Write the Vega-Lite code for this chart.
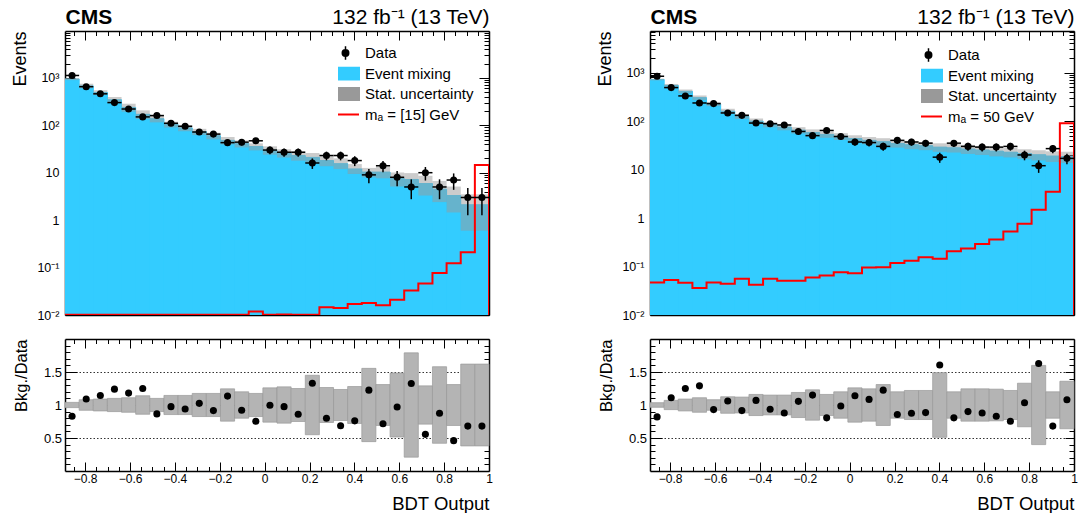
{
"$schema": "https://vega.github.io/schema/vega-lite/v6.json",
"padding": {"left": 10, "top": 6, "right": 4, "bottom": 0},
"config": {
  "font": "Liberation Sans",
  "view": {"stroke": null},
  "axis": {"domainColor": "#000000", "domainWidth": 1.5, "tickColor": "#000000", "tickWidth": 1, "labelColor": "#000000", "titleColor": "#000000", "labelFont": "Liberation Sans", "titleFont": "Liberation Sans", "titleFontWeight": "normal", "labelFontSize": 12, "grid": false, "zindex": 1, "labelFlush": false, "labelOverlap": false}
},
"datasets": {
"L": [
{"x0":-0.89,"x1":-0.827,"c":-0.8585,"n":1120,"elo":1086.5,"ehi":1153.5,"b":940,"blo":895,"bhi":985,"r":0.83,"rlo":0.96,"rhi":1.04},
{"x0":-0.827,"x1":-0.764,"c":-0.7955,"n":650,"elo":624.5,"ehi":675.5,"b":675,"blo":600,"bhi":750,"r":1.09,"rlo":0.92,"rhi":1.08},
{"x0":-0.764,"x1":-0.701,"c":-0.7325,"n":460,"elo":438.6,"ehi":481.4,"b":490,"blo":434,"bhi":545,"r":1.145,"rlo":0.91,"rhi":1.09},
{"x0":-0.701,"x1":-0.638,"c":-0.6695,"n":300,"elo":282.7,"ehi":317.3,"b":344,"blo":294,"bhi":394,"r":1.24,"rlo":0.90,"rhi":1.10},
{"x0":-0.638,"x1":-0.575,"c":-0.6065,"n":220,"elo":205.2,"ehi":234.8,"b":238,"blo":193,"bhi":284,"r":1.18,"rlo":0.89,"rhi":1.11},
{"x0":-0.575,"x1":-0.512,"c":-0.5435,"n":150,"elo":137.8,"ehi":162.2,"b":170,"blo":135,"bhi":206,"r":1.25,"rlo":0.86,"rhi":1.14},
{"x0":-0.512,"x1":-0.449,"c":-0.4805,"n":160,"elo":147.4,"ehi":172.6,"b":137,"blo":115,"bhi":159,"r":0.865,"rlo":0.90,"rhi":1.10},
{"x0":-0.449,"x1":-0.386,"c":-0.4175,"n":110,"elo":99.5,"ehi":120.5,"b":104,"blo":89.4,"bhi":118.6,"r":0.975,"rlo":0.855,"rhi":1.145},
{"x0":-0.386,"x1":-0.323,"c":-0.3545,"n":95,"elo":85.3,"ehi":104.7,"b":88,"blo":74.8,"bhi":101.2,"r":0.94,"rlo":0.855,"rhi":1.145},
{"x0":-0.323,"x1":-0.26,"c":-0.2915,"n":72,"elo":63.5,"ehi":80.5,"b":73,"blo":62,"bhi":84,"r":1.025,"rlo":0.825,"rhi":1.175},
{"x0":-0.26,"x1":-0.197,"c":-0.2285,"n":65,"elo":56.9,"ehi":73.1,"b":60,"blo":50.4,"bhi":69.6,"r":0.915,"rlo":0.825,"rhi":1.175},
{"x0":-0.197,"x1":-0.134,"c":-0.1655,"n":43,"elo":36.4,"ehi":49.6,"b":48,"blo":39.4,"bhi":56.6,"r":1.135,"rlo":0.755,"rhi":1.245},
{"x0":-0.134,"x1":-0.071,"c":-0.1025,"n":44,"elo":37.4,"ehi":50.6,"b":41,"blo":34,"bhi":48,"r":0.92,"rlo":0.80,"rhi":1.20},
{"x0":-0.071,"x1":-0.008,"c":-0.0395,"n":47,"elo":40.1,"ehi":53.9,"b":35.5,"blo":29.5,"bhi":41.5,"r":0.755,"rlo":0.825,"rhi":1.175},
{"x0":-0.008,"x1":0.055,"c":0.0235,"n":30,"elo":24.5,"ehi":35.5,"b":30,"blo":24,"bhi":36,"r":0.995,"rlo":0.74,"rhi":1.26},
{"x0":0.055,"x1":0.118,"c":0.0865,"n":27,"elo":21.8,"ehi":32.2,"b":26,"blo":20.8,"bhi":31.2,"r":0.975,"rlo":0.725,"rhi":1.275},
{"x0":0.118,"x1":0.181,"c":0.1495,"n":27,"elo":21.8,"ehi":32.2,"b":23,"blo":17.9,"bhi":28.1,"r":0.86,"rlo":0.75,"rhi":1.25},
{"x0":0.181,"x1":0.244,"c":0.2125,"n":16,"elo":12,"ehi":20,"b":21,"blo":16,"bhi":26,"r":1.33,"rlo":0.55,"rhi":1.45},
{"x0":0.244,"x1":0.307,"c":0.2755,"n":23,"elo":18.2,"ehi":27.8,"b":18,"blo":13.7,"bhi":22.3,"r":0.80,"rlo":0.735,"rhi":1.265},
{"x0":0.307,"x1":0.37,"c":0.3385,"n":23,"elo":18.2,"ehi":27.8,"b":15.5,"blo":11.9,"bhi":20,"r":0.685,"rlo":0.765,"rhi":1.235},
{"x0":0.37,"x1":0.433,"c":0.4015,"n":18,"elo":13.76,"ehi":22.24,"b":12,"blo":9.4,"bhi":15.2,"r":0.76,"rlo":0.72,"rhi":1.28},
{"x0":0.433,"x1":0.496,"c":0.4645,"n":9,"elo":6,"ehi":12,"b":10.3,"blo":8,"bhi":12.6,"r":1.225,"rlo":0.445,"rhi":1.555},
{"x0":0.496,"x1":0.559,"c":0.5275,"n":14,"elo":10.26,"ehi":17.74,"b":10.3,"blo":7.6,"bhi":13.4,"r":0.715,"rlo":0.69,"rhi":1.31},
{"x0":0.559,"x1":0.622,"c":0.5905,"n":8,"elo":5.17,"ehi":10.83,"b":7.6,"blo":5.1,"bhi":10.1,"r":0.97,"rlo":0.515,"rhi":1.485},
{"x0":0.622,"x1":0.685,"c":0.6535,"n":5,"elo":2.76,"ehi":7.24,"b":7.2,"blo":5.3,"bhi":9.8,"r":1.325,"rlo":0.21,"rhi":1.79},
{"x0":0.685,"x1":0.748,"c":0.7165,"n":10,"elo":6.84,"ehi":13.16,"b":5.9,"blo":3.3,"bhi":8.6,"r":0.555,"rlo":0.71,"rhi":1.29},
{"x0":0.748,"x1":0.811,"c":0.7795,"n":5,"elo":2.76,"ehi":7.24,"b":4.5,"blo":2.4,"bhi":6.7,"r":0.875,"rlo":0.42,"rhi":1.58},
{"x0":0.811,"x1":0.874,"c":0.8425,"n":7,"elo":4.35,"ehi":9.65,"b":3.3,"blo":1.45,"bhi":5.1,"r":0.46,"rlo":0.69,"rhi":1.31},
{"x0":0.874,"x1":0.937,"c":0.9055,"n":3,"elo":1.27,"ehi":4.73,"b":2.1,"blo":0.6,"bhi":3.5,"r":0.68,"rlo":0.38,"rhi":1.62},
{"x0":0.937,"x1":1.0,"c":0.9685,"n":3,"elo":1.27,"ehi":4.73,"b":2.1,"blo":0.6,"bhi":3.5,"r":0.68,"rlo":0.38,"rhi":1.62}
],
"R": [
{"x0":-0.89,"x1":-0.827,"c":-0.8585,"n":840,"elo":811,"ehi":869,"b":720,"blo":691,"bhi":749,"r":0.82,"rlo":0.965,"rhi":1.035},
{"x0":-0.827,"x1":-0.764,"c":-0.7955,"n":490,"elo":467.9,"ehi":512.1,"b":544,"blo":506,"bhi":582,"r":1.11,"rlo":0.93,"rhi":1.07},
{"x0":-0.764,"x1":-0.701,"c":-0.7325,"n":330,"elo":311.8,"ehi":348.2,"b":410,"blo":373,"bhi":447,"r":1.25,"rlo":0.91,"rhi":1.09},
{"x0":-0.701,"x1":-0.638,"c":-0.6695,"n":236,"elo":220.6,"ehi":251.4,"b":304,"blo":271,"bhi":337,"r":1.29,"rlo":0.89,"rhi":1.11},
{"x0":-0.638,"x1":-0.575,"c":-0.6065,"n":229,"elo":213.9,"ehi":244.1,"b":225,"blo":203,"bhi":248,"r":0.93,"rlo":0.92,"rhi":1.08},
{"x0":-0.575,"x1":-0.512,"c":-0.5435,"n":147,"elo":134.9,"ehi":159.1,"b":160,"blo":141,"bhi":179,"r":1.06,"rlo":0.875,"rhi":1.125},
{"x0":-0.512,"x1":-0.449,"c":-0.4805,"n":131,"elo":119.6,"ehi":142.4,"b":125,"blo":110,"bhi":140,"r":0.915,"rlo":0.88,"rhi":1.12},
{"x0":-0.449,"x1":-0.386,"c":-0.4175,"n":91,"elo":81.5,"ehi":100.5,"b":100,"blo":87,"bhi":113,"r":1.07,"rlo":0.84,"rhi":1.16},
{"x0":-0.386,"x1":-0.323,"c":-0.3545,"n":88,"elo":78.6,"ehi":97.4,"b":85,"blo":74,"bhi":96,"r":0.935,"rlo":0.85,"rhi":1.15},
{"x0":-0.323,"x1":-0.26,"c":-0.2915,"n":83,"elo":73.9,"ehi":92.1,"b":75,"blo":64.5,"bhi":85.5,"r":0.88,"rlo":0.85,"rhi":1.15},
{"x0":-0.26,"x1":-0.197,"c":-0.2285,"n":61,"elo":53.2,"ehi":68.8,"b":65,"blo":55.3,"bhi":74.8,"r":1.055,"rlo":0.81,"rhi":1.19},
{"x0":-0.197,"x1":-0.134,"c":-0.1655,"n":50,"elo":42.9,"ehi":57.1,"b":58,"blo":48.7,"bhi":67.3,"r":1.15,"rlo":0.77,"rhi":1.23},
{"x0":-0.134,"x1":-0.071,"c":-0.1025,"n":64,"elo":56,"ehi":72,"b":53,"blo":45.1,"bhi":61,"r":0.805,"rlo":0.84,"rhi":1.16},
{"x0":-0.071,"x1":-0.008,"c":-0.0395,"n":48,"elo":41.1,"ehi":54.9,"b":48.5,"blo":40.7,"bhi":56.3,"r":0.985,"rlo":0.80,"rhi":1.20},
{"x0":-0.008,"x1":0.055,"c":0.0235,"n":37,"elo":30.9,"ehi":43.1,"b":43.5,"blo":36.1,"bhi":50.9,"r":1.14,"rlo":0.74,"rhi":1.26},
{"x0":0.055,"x1":0.118,"c":0.0865,"n":36,"elo":30,"ehi":42,"b":40,"blo":33.2,"bhi":46.8,"r":1.085,"rlo":0.755,"rhi":1.245},
{"x0":0.118,"x1":0.181,"c":0.1495,"n":30,"elo":24.5,"ehi":35.5,"b":37.5,"blo":30.8,"bhi":44.3,"r":1.225,"rlo":0.69,"rhi":1.31},
{"x0":0.181,"x1":0.244,"c":0.2125,"n":40,"elo":33.7,"ehi":46.3,"b":34.5,"blo":28.3,"bhi":40.7,"r":0.855,"rlo":0.80,"rhi":1.20},
{"x0":0.244,"x1":0.307,"c":0.2755,"n":37,"elo":30.9,"ehi":43.1,"b":32.5,"blo":26.3,"bhi":38.7,"r":0.875,"rlo":0.78,"rhi":1.22},
{"x0":0.307,"x1":0.37,"c":0.3385,"n":35,"elo":29.1,"ehi":40.9,"b":31,"blo":25.1,"bhi":36.9,"r":0.885,"rlo":0.78,"rhi":1.22},
{"x0":0.37,"x1":0.433,"c":0.4015,"n":18,"elo":13.76,"ehi":22.24,"b":29,"blo":23.2,"bhi":34.8,"r":1.605,"rlo":0.51,"rhi":1.49},
{"x0":0.433,"x1":0.496,"c":0.4645,"n":35,"elo":29.1,"ehi":40.9,"b":28,"blo":22.4,"bhi":33.6,"r":0.805,"rlo":0.80,"rhi":1.20},
{"x0":0.496,"x1":0.559,"c":0.5275,"n":30,"elo":24.5,"ehi":35.5,"b":26.6,"blo":21,"bhi":32.2,"r":0.90,"rlo":0.755,"rhi":1.245},
{"x0":0.559,"x1":0.622,"c":0.5905,"n":29,"elo":23.6,"ehi":34.4,"b":25.3,"blo":20,"bhi":30.6,"r":0.88,"rlo":0.755,"rhi":1.245},
{"x0":0.622,"x1":0.685,"c":0.6535,"n":29,"elo":23.6,"ehi":34.4,"b":24,"blo":18.7,"bhi":29.3,"r":0.83,"rlo":0.76,"rhi":1.24},
{"x0":0.685,"x1":0.748,"c":0.7165,"n":30,"elo":24.5,"ehi":35.5,"b":22.8,"blo":17.8,"bhi":27.8,"r":0.755,"rlo":0.78,"rhi":1.22},
{"x0":0.748,"x1":0.811,"c":0.7795,"n":20,"elo":15.5,"ehi":24.5,"b":21.3,"blo":16.4,"bhi":26.2,"r":1.035,"rlo":0.67,"rhi":1.33},
{"x0":0.811,"x1":0.874,"c":0.8425,"n":12,"elo":8.54,"ehi":15.46,"b":20.2,"blo":15.4,"bhi":25,"r":1.63,"rlo":0.40,"rhi":1.60},
{"x0":0.874,"x1":0.937,"c":0.9055,"n":27,"elo":21.8,"ehi":32.2,"b":19,"blo":14.3,"bhi":23.8,"r":0.68,"rlo":0.80,"rhi":1.20},
{"x0":0.937,"x1":1.0,"c":0.9685,"n":17,"elo":12.9,"ehi":21.1,"b":18.5,"blo":13.7,"bhi":23.3,"r":1.08,"rlo":0.64,"rhi":1.36}
],
"sL": [
{"e":-0.89,"s":0.0101},{"e":-0.827,"s":0.0101},{"e":-0.764,"s":0.0101},{"e":-0.701,"s":0.0101},{"e":-0.638,"s":0.0101},{"e":-0.575,"s":0.0101},{"e":-0.512,"s":0.0101},{"e":-0.449,"s":0.0101},{"e":-0.386,"s":0.0101},{"e":-0.323,"s":0.0101},{"e":-0.26,"s":0.0101},{"e":-0.197,"s":0.0101},{"e":-0.134,"s":0.0101},{"e":-0.071,"s":0.0118},{"e":-0.008,"s":0.0101},{"e":0.055,"s":0.0102},{"e":0.118,"s":0.0101},{"e":0.181,"s":0.0101},{"e":0.244,"s":0.0145},{"e":0.307,"s":0.014},{"e":0.37,"s":0.017},{"e":0.433,"s":0.018},{"e":0.496,"s":0.016},{"e":0.559,"s":0.021},{"e":0.622,"s":0.033},{"e":0.685,"s":0.046},{"e":0.748,"s":0.077},{"e":0.811,"s":0.123},{"e":0.874,"s":0.21},{"e":0.937,"s":14.6},{"e":1.0,"s":0.01}
],
"sR": [
{"e":-0.89,"s":0.047},{"e":-0.827,"s":0.053},{"e":-0.764,"s":0.046},{"e":-0.701,"s":0.036},{"e":-0.638,"s":0.047},{"e":-0.575,"s":0.044},{"e":-0.512,"s":0.056},{"e":-0.449,"s":0.042},{"e":-0.386,"s":0.056},{"e":-0.323,"s":0.051},{"e":-0.26,"s":0.051},{"e":-0.197,"s":0.059},{"e":-0.134,"s":0.065},{"e":-0.071,"s":0.076},{"e":-0.008,"s":0.073},{"e":0.055,"s":0.095},{"e":0.118,"s":0.096},{"e":0.181,"s":0.118},{"e":0.244,"s":0.131},{"e":0.307,"s":0.156},{"e":0.37,"s":0.145},{"e":0.433,"s":0.206},{"e":0.496,"s":0.235},{"e":0.559,"s":0.29},{"e":0.622,"s":0.36},{"e":0.685,"s":0.53},{"e":0.748,"s":0.76},{"e":0.811,"s":1.48},{"e":0.874,"s":3.48},{"e":0.937,"s":90},{"e":1.0,"s":0.01}
]
},
"columns": 2,
"spacing": {"row": 24, "column": 161},
"bounds": "flush",
"resolve": {"scale": {"color": "independent"}, "legend": {"color": "independent"}},
"concat": [
{
  "width": 424, "height": 284,
  "layer": [
    {"data": {"name": "L"}, "mark": {"type": "rect", "clip": true, "fill": "#33ccff", "stroke": "#33ccff", "strokeWidth": 1},
     "encoding": {
       "x": {"field": "x0", "type": "quantitative", "scale": {"domain": [-0.89, 1], "nice": false, "zero": false}, "axis": null},
       "x2": {"field": "x1"},
       "y": {"field": "b", "type": "quantitative", "scale": {"type": "log", "domain": [0.01, 9700], "nice": false}, "axis": null},
       "y2": {"datum": 0.01}
     }},
    {"data": {"name": "L"}, "mark": {"type": "rect", "clip": true},
     "encoding": {
       "x": {"field": "x0", "type": "quantitative",
             "axis": {"orient": "bottom", "values": [-0.8,-0.6,-0.4,-0.2,0,0.2,0.4,0.6,0.8,1], "labels": false, "tickSize": -9, "domain": true, "title": null}},
       "x2": {"field": "x1"},
       "y": {"field": "b", "type": "quantitative",
             "axis": {"orient": "left", "values": [0.01,0.1,1,10,100,1000], "labelExpr": "datum.value >= 999 ? '10³' : datum.value >= 99 ? '10²' : datum.value >= 9 ? '10' : datum.value >= 0.9 ? '1' : datum.value >= 0.09 ? '10⁻¹' : '10⁻²'", "tickSize": -10, "labelPadding": 16, "labelFontSize": 12.5, "domain": true, "title": "Events", "titleFontSize": 18, "titleAngle": -90, "titleAlign": "right", "titleBaseline": "alphabetic", "titleX": -40, "titleY": 0}},
       "y2": {"datum": 0.01},
       "color": {"datum": "Event mixing",
         "scale": {"domain": ["Data", "Event mixing", "Stat. uncertainty", "mₐ = [15] GeV"], "range": ["#000000", "#33ccff", "#999999", "#ff0000"]},
         "legend": {"title": null, "orient": "top-right", "offset": 15, "padding": 0, "labelFont": "Liberation Sans", "labelFontSize": 15, "labelColor": "#000000", "labelOffset": 12, "labelLimit": 300, "symbolSize": 729, "clipHeight": 14, "rowPadding": 5.5,
           "encode": {"symbols": {"update": {
             "shape": {"signal": "datum.value === 'Data' ? 'M0,-0.5V0.5M0.24,0A0.24,0.24 0 1,1 -0.24,0A0.24,0.24 0 1,1 0.24,0Z' : (datum.value === 'Event mixing' || datum.value === 'Stat. uncertainty') ? 'M-1,-0.45H1V0.45H-1Z' : 'M-1,0H1'"},
             "strokeWidth": {"signal": "datum.value === 'Data' ? 1.5 : 2"},
             "opacity": {"value": 1}, "fillOpacity": {"value": 1}, "strokeOpacity": {"value": 1},
             "size": {"value": 729}
           }}}
         }}
     }},
    {"data": {"name": "L"}, "mark": {"type": "rect", "opacity": 0.5, "clip": true},
     "encoding": {
       "x": {"field": "x0", "type": "quantitative",
             "axis": {"orient": "top", "values": [-0.8,-0.6,-0.4,-0.2,0,0.2,0.4,0.6,0.8,1], "labels": false, "tickSize": -9, "domain": true, "title": "132 fb⁻¹ (13 TeV)", "titleFontSize": 21, "titleAlign": "right", "titleBaseline": "alphabetic", "titleX": 424, "titleY": -8}},
       "x2": {"field": "x1"},
       "y": {"field": "blo", "type": "quantitative",
             "axis": {"orient": "right", "values": [0.01,0.1,1,10,100,1000], "labels": false, "tickSize": -10, "domain": true, "title": null}},
       "y2": {"field": "bhi"},
       "color": {"datum": "Stat. uncertainty"}
     }},
    {"data": {"name": "sL"}, "mark": {"type": "line", "interpolate": "step-after", "strokeWidth": 2, "clip": true},
     "encoding": {
       "x": {"field": "e", "type": "quantitative", "axis": null},
       "y": {"field": "s", "type": "quantitative", "axis": null},
       "color": {"datum": "mₐ = [15] GeV"}
     }},
    {"data": {"name": "L"}, "mark": {"type": "rule", "strokeWidth": 1.5, "clip": true},
     "encoding": {
       "x": {"field": "c", "type": "quantitative",
             "axis": {"orient": "bottom", "values": [-0.85,-0.75,-0.7,-0.65,-0.55,-0.5,-0.45,-0.35,-0.3,-0.25,-0.15,-0.1,-0.05,0.05,0.1,0.15,0.25,0.3,0.35,0.45,0.5,0.55,0.65,0.7,0.75,0.85,0.9,0.95], "labels": false, "tickSize": -4.5, "domain": false, "title": null}},
       "y": {"field": "elo", "type": "quantitative",
             "axis": {"orient": "left", "values": [0.02,0.03,0.04,0.05,0.06,0.07,0.08,0.09,0.2,0.3,0.4,0.5,0.6,0.7,0.8,0.9,2,3,4,5,6,7,8,9,20,30,40,50,60,70,80,90,200,300,400,500,600,700,800,900,2000,3000,4000,5000,6000,7000,8000,9000], "labels": false, "tickSize": -5, "domain": false, "title": null}},
       "y2": {"field": "ehi"},
       "color": {"datum": "Data"}
     }},
    {"data": {"name": "L"}, "mark": {"type": "rule", "strokeWidth": 1.5, "clip": true},
     "encoding": {
       "x": {"field": "x0", "type": "quantitative",
             "axis": {"orient": "top", "values": [-0.85,-0.75,-0.7,-0.65,-0.55,-0.5,-0.45,-0.35,-0.3,-0.25,-0.15,-0.1,-0.05,0.05,0.1,0.15,0.25,0.3,0.35,0.45,0.5,0.55,0.65,0.7,0.75,0.85,0.9,0.95], "labels": false, "tickSize": -4.5, "domain": false, "title": "CMS", "titleFontSize": 21, "titleFontWeight": "bold", "titleAlign": "left", "titleBaseline": "alphabetic", "titleX": 0, "titleY": -8}},
       "x2": {"field": "x1"},
       "y": {"field": "n", "type": "quantitative",
             "axis": {"orient": "right", "values": [0.02,0.03,0.04,0.05,0.06,0.07,0.08,0.09,0.2,0.3,0.4,0.5,0.6,0.7,0.8,0.9,2,3,4,5,6,7,8,9,20,30,40,50,60,70,80,90,200,300,400,500,600,700,800,900,2000,3000,4000,5000,6000,7000,8000,9000], "labels": false, "tickSize": -5, "domain": false, "title": null}},
       "color": {"datum": "Data"}
     }},
    {"data": {"name": "L"}, "mark": {"type": "point", "filled": true, "size": 50, "opacity": 1, "clip": true},
     "encoding": {
       "x": {"field": "c", "type": "quantitative", "axis": null},
       "y": {"field": "n", "type": "quantitative", "axis": null},
       "color": {"datum": "Data"}
     }}
  ],
  "resolve": {"axis": {"x": "independent", "y": "independent"}}
},
{
  "width": 424, "height": 284,
  "layer": [
    {"data": {"name": "R"}, "mark": {"type": "rect", "clip": true, "fill": "#33ccff", "stroke": "#33ccff", "strokeWidth": 1},
     "encoding": {
       "x": {"field": "x0", "type": "quantitative", "scale": {"domain": [-0.89, 1], "nice": false, "zero": false}, "axis": null},
       "x2": {"field": "x1"},
       "y": {"field": "b", "type": "quantitative", "scale": {"type": "log", "domain": [0.01, 7200], "nice": false}, "axis": null},
       "y2": {"datum": 0.01}
     }},
    {"data": {"name": "R"}, "mark": {"type": "rect", "clip": true},
     "encoding": {
       "x": {"field": "x0", "type": "quantitative",
             "axis": {"orient": "bottom", "values": [-0.8,-0.6,-0.4,-0.2,0,0.2,0.4,0.6,0.8,1], "labels": false, "tickSize": -9, "domain": true, "title": null}},
       "x2": {"field": "x1"},
       "y": {"field": "b", "type": "quantitative",
             "axis": {"orient": "left", "values": [0.01,0.1,1,10,100,1000], "labelExpr": "datum.value >= 999 ? '10³' : datum.value >= 99 ? '10²' : datum.value >= 9 ? '10' : datum.value >= 0.9 ? '1' : datum.value >= 0.09 ? '10⁻¹' : '10⁻²'", "tickSize": -10, "labelPadding": 16, "labelFontSize": 12.5, "domain": true, "title": "Events", "titleFontSize": 18, "titleAngle": -90, "titleAlign": "right", "titleBaseline": "alphabetic", "titleX": -40, "titleY": 0}},
       "y2": {"datum": 0.01},
       "color": {"datum": "Event mixing",
         "scale": {"domain": ["Data", "Event mixing", "Stat. uncertainty", "mₐ = 50 GeV"], "range": ["#000000", "#33ccff", "#999999", "#ff0000"]},
         "legend": {"title": null, "orient": "top-right", "offset": 17, "padding": 0, "labelFont": "Liberation Sans", "labelFontSize": 15, "labelColor": "#000000", "labelOffset": 12, "labelLimit": 300, "symbolSize": 729, "clipHeight": 14, "rowPadding": 5.5,
           "encode": {"symbols": {"update": {
             "shape": {"signal": "datum.value === 'Data' ? 'M0,-0.5V0.5M0.24,0A0.24,0.24 0 1,1 -0.24,0A0.24,0.24 0 1,1 0.24,0Z' : (datum.value === 'Event mixing' || datum.value === 'Stat. uncertainty') ? 'M-1,-0.45H1V0.45H-1Z' : 'M-1,0H1'"},
             "strokeWidth": {"signal": "datum.value === 'Data' ? 1.5 : 2"},
             "opacity": {"value": 1}, "fillOpacity": {"value": 1}, "strokeOpacity": {"value": 1},
             "size": {"value": 729}
           }}}
         }}
     }},
    {"data": {"name": "R"}, "mark": {"type": "rect", "opacity": 0.5, "clip": true},
     "encoding": {
       "x": {"field": "x0", "type": "quantitative",
             "axis": {"orient": "top", "values": [-0.8,-0.6,-0.4,-0.2,0,0.2,0.4,0.6,0.8,1], "labels": false, "tickSize": -9, "domain": true, "title": "132 fb⁻¹ (13 TeV)", "titleFontSize": 21, "titleAlign": "right", "titleBaseline": "alphabetic", "titleX": 424, "titleY": -8}},
       "x2": {"field": "x1"},
       "y": {"field": "blo", "type": "quantitative",
             "axis": {"orient": "right", "values": [0.01,0.1,1,10,100,1000], "labels": false, "tickSize": -10, "domain": true, "title": null}},
       "y2": {"field": "bhi"},
       "color": {"datum": "Stat. uncertainty"}
     }},
    {"data": {"name": "sR"}, "mark": {"type": "line", "interpolate": "step-after", "strokeWidth": 2, "clip": true},
     "encoding": {
       "x": {"field": "e", "type": "quantitative", "axis": null},
       "y": {"field": "s", "type": "quantitative", "axis": null},
       "color": {"datum": "mₐ = 50 GeV"}
     }},
    {"data": {"name": "R"}, "mark": {"type": "rule", "strokeWidth": 1.5, "clip": true},
     "encoding": {
       "x": {"field": "c", "type": "quantitative",
             "axis": {"orient": "bottom", "values": [-0.85,-0.75,-0.7,-0.65,-0.55,-0.5,-0.45,-0.35,-0.3,-0.25,-0.15,-0.1,-0.05,0.05,0.1,0.15,0.25,0.3,0.35,0.45,0.5,0.55,0.65,0.7,0.75,0.85,0.9,0.95], "labels": false, "tickSize": -4.5, "domain": false, "title": null}},
       "y": {"field": "elo", "type": "quantitative",
             "axis": {"orient": "left", "values": [0.02,0.03,0.04,0.05,0.06,0.07,0.08,0.09,0.2,0.3,0.4,0.5,0.6,0.7,0.8,0.9,2,3,4,5,6,7,8,9,20,30,40,50,60,70,80,90,200,300,400,500,600,700,800,900,2000,3000,4000,5000,6000,7000], "labels": false, "tickSize": -5, "domain": false, "title": null}},
       "y2": {"field": "ehi"},
       "color": {"datum": "Data"}
     }},
    {"data": {"name": "R"}, "mark": {"type": "rule", "strokeWidth": 1.5, "clip": true},
     "encoding": {
       "x": {"field": "x0", "type": "quantitative",
             "axis": {"orient": "top", "values": [-0.85,-0.75,-0.7,-0.65,-0.55,-0.5,-0.45,-0.35,-0.3,-0.25,-0.15,-0.1,-0.05,0.05,0.1,0.15,0.25,0.3,0.35,0.45,0.5,0.55,0.65,0.7,0.75,0.85,0.9,0.95], "labels": false, "tickSize": -4.5, "domain": false, "title": "CMS", "titleFontSize": 21, "titleFontWeight": "bold", "titleAlign": "left", "titleBaseline": "alphabetic", "titleX": 0, "titleY": -8}},
       "x2": {"field": "x1"},
       "y": {"field": "n", "type": "quantitative",
             "axis": {"orient": "right", "values": [0.02,0.03,0.04,0.05,0.06,0.07,0.08,0.09,0.2,0.3,0.4,0.5,0.6,0.7,0.8,0.9,2,3,4,5,6,7,8,9,20,30,40,50,60,70,80,90,200,300,400,500,600,700,800,900,2000,3000,4000,5000,6000,7000], "labels": false, "tickSize": -5, "domain": false, "title": null}},
       "color": {"datum": "Data"}
     }},
    {"data": {"name": "R"}, "mark": {"type": "point", "filled": true, "size": 50, "opacity": 1, "clip": true},
     "encoding": {
       "x": {"field": "c", "type": "quantitative", "axis": null},
       "y": {"field": "n", "type": "quantitative", "axis": null},
       "color": {"datum": "Data"}
     }}
  ],
  "resolve": {"axis": {"x": "independent", "y": "independent"}}
},
{
  "width": 424, "height": 132,
  "data": {"name": "L"},
  "layer": [
    {"mark": {"type": "rect", "fill": "#b4b4b4", "stroke": "#999999", "strokeWidth": 0.7},
     "encoding": {
       "x": {"field": "x0", "type": "quantitative", "scale": {"domain": [-0.89, 1], "nice": false, "zero": false},
             "axis": {"orient": "bottom", "values": [-0.8,-0.6,-0.4,-0.2,0,0.2,0.4,0.6,0.8,1], "format": "~g", "tickSize": -9, "labelPadding": 11, "labelFontSize": 12, "domain": true, "title": "BDT Output", "titleFontSize": 18.5, "titleAlign": "right", "titleBaseline": "alphabetic", "titleX": 424, "titleY": 38}},
       "x2": {"field": "x1"},
       "y": {"field": "rlo", "type": "quantitative", "scale": {"domain": [0, 2], "nice": false, "zero": false},
             "axis": {"orient": "left", "values": [0.5, 1, 1.5], "format": "~g", "tickSize": -12, "labelPadding": 15.5, "labelFontSize": 13, "domain": true, "grid": true, "gridDash": [1.5, 2], "gridColor": "#333333", "gridWidth": 1, "title": "Bkg./Data", "titleFontSize": 16.5, "titleAngle": -90, "titleAlign": "right", "titleBaseline": "alphabetic", "titleX": -39, "titleY": 0}},
       "y2": {"field": "rhi"}
     }},
    {"mark": {"type": "point", "filled": true, "size": 50, "color": "#000000", "opacity": 1},
     "encoding": {
       "x": {"field": "c", "type": "quantitative",
             "axis": {"orient": "top", "values": [-0.8,-0.6,-0.4,-0.2,0,0.2,0.4,0.6,0.8,1], "labels": false, "tickSize": -9, "domain": true, "title": null}},
       "y": {"field": "r", "type": "quantitative",
             "axis": {"orient": "right", "values": [0.5, 1, 1.5], "labels": false, "tickSize": -9, "domain": true, "title": null}}
     }},
    {"data": {"values": []}, "mark": "rule",
     "encoding": {
       "x": {"field": "c", "type": "quantitative",
             "axis": {"orient": "bottom", "values": [-0.85,-0.75,-0.7,-0.65,-0.55,-0.5,-0.45,-0.35,-0.3,-0.25,-0.15,-0.1,-0.05,0.05,0.1,0.15,0.25,0.3,0.35,0.45,0.5,0.55,0.65,0.7,0.75,0.85,0.9,0.95], "labels": false, "tickSize": -4.5, "domain": false, "title": null}},
       "y": {"field": "r", "type": "quantitative",
             "axis": {"orient": "left", "values": [0.1,0.2,0.3,0.4,0.6,0.7,0.8,0.9,1.1,1.2,1.3,1.4,1.6,1.7,1.8,1.9], "labels": false, "tickSize": -5, "domain": false, "title": null}}
     }},
    {"data": {"values": []}, "mark": "rule",
     "encoding": {
       "x": {"field": "c", "type": "quantitative",
             "axis": {"orient": "top", "values": [-0.85,-0.75,-0.7,-0.65,-0.55,-0.5,-0.45,-0.35,-0.3,-0.25,-0.15,-0.1,-0.05,0.05,0.1,0.15,0.25,0.3,0.35,0.45,0.5,0.55,0.65,0.7,0.75,0.85,0.9,0.95], "labels": false, "tickSize": -4.5, "domain": false, "title": null}},
       "y": {"field": "r", "type": "quantitative",
             "axis": {"orient": "right", "values": [0.1,0.2,0.3,0.4,0.6,0.7,0.8,0.9,1.1,1.2,1.3,1.4,1.6,1.7,1.8,1.9], "labels": false, "tickSize": -5, "domain": false, "title": null}}
     }}
  ],
  "resolve": {"axis": {"x": "independent", "y": "independent"}}
},
{
  "width": 424, "height": 132,
  "data": {"name": "R"},
  "layer": [
    {"mark": {"type": "rect", "fill": "#b4b4b4", "stroke": "#999999", "strokeWidth": 0.7},
     "encoding": {
       "x": {"field": "x0", "type": "quantitative", "scale": {"domain": [-0.89, 1], "nice": false, "zero": false},
             "axis": {"orient": "bottom", "values": [-0.8,-0.6,-0.4,-0.2,0,0.2,0.4,0.6,0.8,1], "format": "~g", "tickSize": -9, "labelPadding": 11, "labelFontSize": 12, "domain": true, "title": "BDT Output", "titleFontSize": 18.5, "titleAlign": "right", "titleBaseline": "alphabetic", "titleX": 424, "titleY": 38}},
       "x2": {"field": "x1"},
       "y": {"field": "rlo", "type": "quantitative", "scale": {"domain": [0, 2], "nice": false, "zero": false},
             "axis": {"orient": "left", "values": [0.5, 1, 1.5], "format": "~g", "tickSize": -12, "labelPadding": 15.5, "labelFontSize": 13, "domain": true, "grid": true, "gridDash": [1.5, 2], "gridColor": "#333333", "gridWidth": 1, "title": "Bkg./Data", "titleFontSize": 16.5, "titleAngle": -90, "titleAlign": "right", "titleBaseline": "alphabetic", "titleX": -39, "titleY": 0}},
       "y2": {"field": "rhi"}
     }},
    {"mark": {"type": "point", "filled": true, "size": 50, "color": "#000000", "opacity": 1},
     "encoding": {
       "x": {"field": "c", "type": "quantitative",
             "axis": {"orient": "top", "values": [-0.8,-0.6,-0.4,-0.2,0,0.2,0.4,0.6,0.8,1], "labels": false, "tickSize": -9, "domain": true, "title": null}},
       "y": {"field": "r", "type": "quantitative",
             "axis": {"orient": "right", "values": [0.5, 1, 1.5], "labels": false, "tickSize": -9, "domain": true, "title": null}}
     }},
    {"data": {"values": []}, "mark": "rule",
     "encoding": {
       "x": {"field": "c", "type": "quantitative",
             "axis": {"orient": "bottom", "values": [-0.85,-0.75,-0.7,-0.65,-0.55,-0.5,-0.45,-0.35,-0.3,-0.25,-0.15,-0.1,-0.05,0.05,0.1,0.15,0.25,0.3,0.35,0.45,0.5,0.55,0.65,0.7,0.75,0.85,0.9,0.95], "labels": false, "tickSize": -4.5, "domain": false, "title": null}},
       "y": {"field": "r", "type": "quantitative",
             "axis": {"orient": "left", "values": [0.1,0.2,0.3,0.4,0.6,0.7,0.8,0.9,1.1,1.2,1.3,1.4,1.6,1.7,1.8,1.9], "labels": false, "tickSize": -5, "domain": false, "title": null}}
     }},
    {"data": {"values": []}, "mark": "rule",
     "encoding": {
       "x": {"field": "c", "type": "quantitative",
             "axis": {"orient": "top", "values": [-0.85,-0.75,-0.7,-0.65,-0.55,-0.5,-0.45,-0.35,-0.3,-0.25,-0.15,-0.1,-0.05,0.05,0.1,0.15,0.25,0.3,0.35,0.45,0.5,0.55,0.65,0.7,0.75,0.85,0.9,0.95], "labels": false, "tickSize": -4.5, "domain": false, "title": null}},
       "y": {"field": "r", "type": "quantitative",
             "axis": {"orient": "right", "values": [0.1,0.2,0.3,0.4,0.6,0.7,0.8,0.9,1.1,1.2,1.3,1.4,1.6,1.7,1.8,1.9], "labels": false, "tickSize": -5, "domain": false, "title": null}}
     }}
  ],
  "resolve": {"axis": {"x": "independent", "y": "independent"}}
}
]
}
